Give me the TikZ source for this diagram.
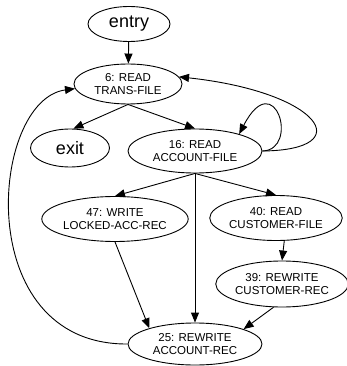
\documentclass[tikz,border=0pt]{standalone}
\usepackage{fontspec}
\setmainfont{Liberation Sans}
\usetikzlibrary{shapes.geometric,arrows.meta}
\begin{document}
\begin{tikzpicture}[x=1pt,y=-1pt,
  every node/.style={ellipse,draw,line width=0.9pt,inner sep=0pt,align=center},
  small/.style={font=\fontsize{11.5}{12.5}\selectfont},
  big/.style={font=\fontsize{18}{20}\selectfont},
  conn/.style={line width=0.9pt,-{Triangle[length=10pt,width=8pt]}}]
\useasboundingbox (0,0) rectangle (347,366);
\node[big,minimum width=82pt,minimum height=35pt] (entry) at (129,24) {entry};
\node[small,minimum width=108pt,minimum height=40pt] (n6) at (128,84) {6: READ\\TRANS-FILE};
\node[big,minimum width=79pt,minimum height=38pt] (exit) at (70,148) {exit};
\node[small,minimum width=134pt,minimum height=44pt] (n16) at (195,151) {16: READ\\ACCOUNT-FILE};
\node[small,minimum width=134pt,minimum height=45pt] (n47) at (115,219) {47: WRITE\\LOCKED-ACC-REC};
\node[small,minimum width=118pt,minimum height=45pt] (n40) at (276,218) {40: READ\\CUSTOMER-FILE};
\node[small,minimum width=128pt,minimum height=46pt] (n39) at (282,284) {39: REWRITE\\CUSTOMER-REC};
\node[small,minimum width=134pt,minimum height=42pt] (n25) at (195,344) {25: REWRITE\\ACCOUNT-REC};

\draw[conn] (entry) -- (n6);
\draw[conn] (n6.south) -- (exit.80);
\draw[conn] (n6.south) -- (n16.north);
% self loop on 16 and the back edge to 6
\draw[conn] (n16.east) .. controls (300,150) and (275,65) .. (n16.21);
\draw[conn] (n16.east) .. controls (360,150) and (320,92) .. (n6.8);
\draw[conn] (n16.south) -- (n47.north);
\draw[conn] (n16.south) -- (n25.north);
\draw[conn] (n16.south) -- (n40.north);
\draw[conn] (n40.290) -- (n39.north);
\draw[conn] (n47.south) -- (n25.161);
\draw[conn] (n39.250) -- (n25.17);
\draw[conn] (n25.west) .. controls (-30,345) and (-10,100) .. (n6.185);
\end{tikzpicture}
\end{document}
